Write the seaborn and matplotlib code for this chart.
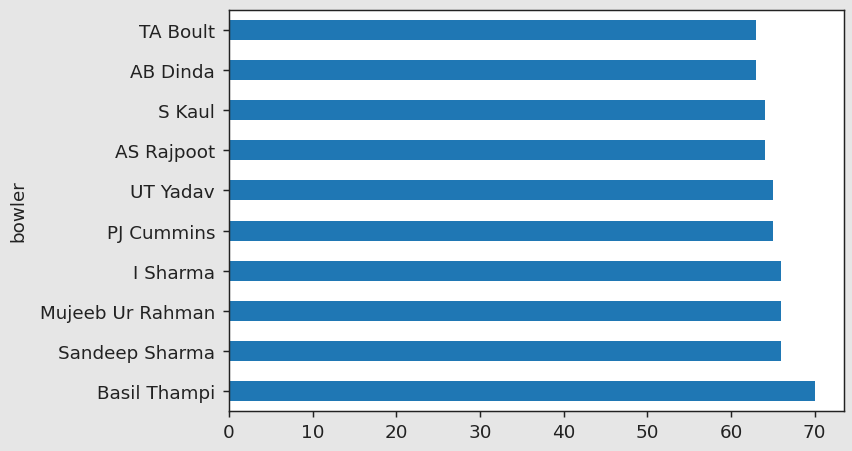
import matplotlib
matplotlib.use("Agg")
import matplotlib.pyplot as plt
import seaborn as sns
import pandas as pd

bowlers = ["TA Boult", "AB Dinda", "S Kaul", "AS Rajpoot", "UT Yadav",
           "PJ Cummins", "I Sharma", "Mujeeb Ur Rahman", "Sandeep Sharma", "Basil Thampi"]
counts = [63, 63, 64, 64, 65, 65, 66, 66, 66, 70]

df = pd.DataFrame({"bowler": bowlers, "count": counts})

s = 1.32
plt.rcParams.update({
    "font.size": 10 * s,
    "xtick.major.size": 4.5,
    "ytick.major.size": 4.5,
    "xtick.major.pad": 4.5,
    "ytick.major.pad": 5.5,
    "xtick.major.width": 0.8 * s,
    "ytick.major.width": 0.8 * s,
    "axes.linewidth": 0.8 * s,
    "axes.labelpad": 9,
    "text.color": "#222222",
    "xtick.color": "#222222",
    "ytick.color": "#222222",
    "axes.labelcolor": "#222222",
})
fig = plt.figure(figsize=(8.53, 4.52), dpi=100, facecolor="#e6e6e6")
ax = fig.add_axes([229/853, 40/452, 615/853, 401/452])
ax.set_facecolor("white")
sns.barplot(data=df, x="count", y="bowler", orient="h", color="#1f77b4",
            saturation=1, width=0.5, ax=ax)
ax.set_xlabel("")
ax.set_ylabel("bowler")
ax.set_xlim(0, 73.5)
ax.set_xticks([0, 10, 20, 30, 40, 50, 60, 70])
for sp in ax.spines.values():
    sp.set_color("#222222")
fig.savefig("out.png", dpi=100, facecolor=fig.get_facecolor())
